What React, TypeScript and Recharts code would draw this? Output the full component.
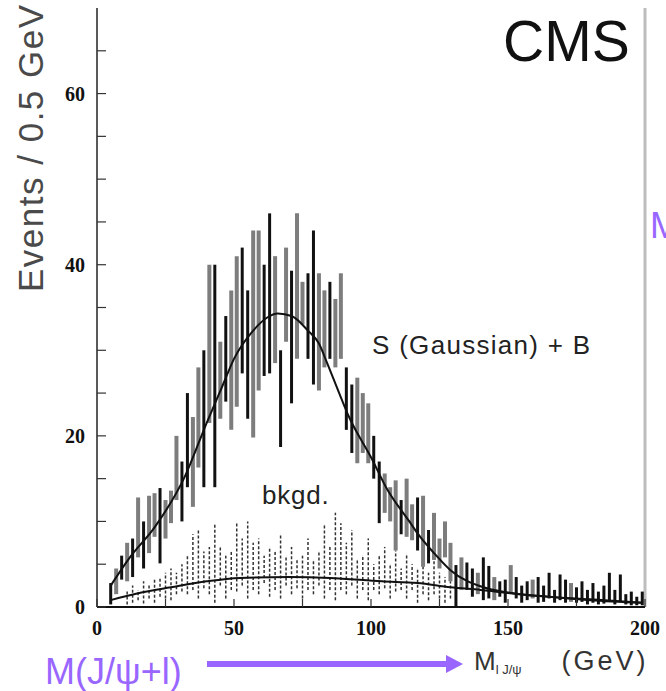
import React from 'react';
import { ComposedChart, XAxis, YAxis, Scatter, ErrorBar, Line, ReferenceLine } from 'recharts';

// observed events per bin (error bar low / high edges), S+B sample
const obsMass = [5, 7, 9, 11, 13, 15, 17, 19, 21, 23, 25, 27, 29, 31, 33, 35, 37, 39, 41, 43, 45, 47, 49, 51, 53, 55, 57, 59, 61, 63, 65, 67, 69, 71, 73, 75, 77, 79, 81, 83, 85, 87, 89, 91, 93, 95, 97, 99, 101, 103, 105, 107, 109, 111, 113, 115, 117, 119, 121, 123, 125, 127, 129, 131, 133, 135, 137, 139, 141, 143, 145, 147, 149, 151, 153, 155, 157, 159, 161, 163, 165, 167, 169, 171, 173, 175, 177, 179, 181, 183, 185, 187, 189, 191, 193, 195, 197, 199];
const obsLow = [0.3, 1.5, 3.2, 3.0, 3.5, 5.8, 4.5, 6.3, 8.2, 5.1, 8.0, 9.8, 12.5, 10.0, 14.0, 11.7, 16.3, 14.0, 21.5, 14.0, 22.0, 24.0, 20.7, 23.4, 27.3, 22.0, 19.8, 25.3, 27.0, 27.3, 28.5, 18.7, 31.0, 23.8, 29.0, 33.0, 29.0, 26.0, 25.3, 28.0, 29.0, 28.0, 29.0, 20.7, 18.0, 16.8, 18.0, 16.8, 15.0, 9.8, 11.0, 10.0, 6.6, 8.5, 8.2, 7.8, 6.6, 4.7, 5.1, 5.5, 4.5, 5.8, 3.0, 0.0, 2.0, 2.0, 1.2, 1.5, 0.8, 1.0, 0.8, 1.2, 0.5, 1.6, 1.0, 0.5, 0.8, 1.0, 0.5, 0.6, 1.0, 0.5, 0.8, 0.5, 0.6, 0.5, 0.6, 0.3, 0.5, 0.3, 0.4, 0.8, 0.3, 0.6, 0.3, 0.2, 0.2, 0.2];
const obsHigh = [2.8, 4.5, 6.0, 7.5, 8.0, 12.8, 10.0, 13.0, 13.3, 13.9, 12.5, 13.6, 20.0, 17.0, 25.0, 22.2, 28.0, 30.0, 40.0, 40.0, 31.0, 34.0, 37.0, 41.0, 42.0, 37.0, 44.0, 44.0, 40.0, 46.0, 41.0, 30.0, 42.0, 39.3, 46.0, 38.0, 39.0, 44.0, 39.0, 37.0, 38.0, 36.0, 39.0, 28.0, 26.0, 26.8, 25.0, 23.8, 20.0, 17.0, 15.6, 14.0, 14.8, 12.5, 15.0, 12.0, 12.8, 13.0, 9.0, 11.0, 8.0, 10.0, 7.5, 4.9, 5.8, 5.2, 4.5, 4.0, 5.8, 4.8, 3.5, 3.0, 3.2, 4.9, 3.5, 2.5, 3.0, 3.2, 3.5, 2.5, 4.0, 2.0, 3.8, 3.2, 2.8, 2.3, 3.0, 2.0, 2.8, 1.8, 2.5, 4.0, 2.0, 3.8, 1.5, 1.8, 1.2, 1.8];
const obsShade = ['k', 'g', 'k', 'g', 'k', 'g', 'k', 'g', 'g', 'k', 'g', 'g', 'g', 'k', 'k', 'g', 'g', 'k', 'g', 'k', 'g', 'k', 'g', 'g', 'k', 'k', 'g', 'g', 'k', 'k', 'g', 'k', 'g', 'k', 'g', 'g', 'k', 'k', 'g', 'g', 'k', 'g', 'g', 'k', 'k', 'g', 'g', 'g', 'k', 'k', 'g', 'g', 'g', 'k', 'g', 'g', 'k', 'g', 'k', 'g', 'g', 'g', 'g', 'k', 'g', 'k', 'k', 'g', 'k', 'k', 'g', 'k', 'k', 'g', 'k', 'k', 'k', 'g', 'k', 'k', 'k', 'k', 'k', 'k', 'g', 'k', 'k', 'k', 'k', 'k', 'k', 'k', 'k', 'k', 'k', 'k', 'k', 'k'];

// background-only sample (dashed error bars)
const bkgMass = [11, 13, 15, 17, 19, 21, 23, 25, 27, 29, 31, 33, 35, 37, 39, 41, 43, 45, 47, 49, 51, 53, 55, 57, 59, 61, 63, 65, 67, 69, 71, 73, 75, 77, 79, 81, 83, 85, 87, 89, 91, 93, 95, 97, 99, 101, 103, 105, 107, 109, 111, 113, 115, 117, 119, 121, 123, 125, 127, 129];
const bkgLow = [0.3, 0.5, 0.8, 0.4, 1.0, 0.5, 1.2, 1.0, 0.8, 1.5, 1.8, 1.5, 2.0, 1.0, 2.2, 1.5, 0.5, 2.5, 1.0, 2.0, 1.8, 2.5, 1.0, 2.0, 1.5, 2.8, 1.2, 2.0, 1.0, 2.5, 1.5, 2.2, 1.0, 2.0, 1.5, 2.5, 1.0, 2.0, 0.8, 2.0, 1.5, 2.5, 1.0, 2.0, 0.8, 2.0, 1.5, 2.2, 1.0, 1.8, 2.0, 1.0, 2.0, 0.5, 1.5, 0.8, 1.5, 1.0, 0.5, 1.0];
const bkgHigh = [2.0, 2.5, 2.0, 3.0, 2.5, 3.2, 3.5, 4.0, 4.5, 4.0, 5.0, 6.0, 8.5, 9.0, 6.5, 7.0, 9.6, 7.0, 6.0, 6.5, 10.0, 8.0, 10.0, 7.5, 8.0, 6.0, 7.0, 6.5, 8.6, 6.0, 7.0, 5.5, 6.0, 8.0, 5.5, 6.5, 9.6, 7.0, 11.0, 9.8, 7.5, 9.0, 5.5, 6.0, 8.0, 5.0, 6.0, 7.0, 5.0, 6.6, 4.5, 6.2, 5.0, 4.5, 5.5, 4.0, 5.8, 4.0, 3.5, 3.0];

// fitted curves
const fitMass = [5, 12, 21, 32, 40, 46, 50, 57, 62, 66, 71, 77, 81, 84, 89, 92, 100, 106, 114, 117, 123, 129, 141, 150, 165, 180, 199];
const fitSB = [2.5, 5.8, 9.3, 15.2, 21.5, 26.0, 29.0, 32.3, 33.8, 34.3, 34.0, 32.3, 30.8, 28.5, 24.5, 22.2, 17.5, 13.7, 10.0, 8.6, 6.3, 4.3, 2.3, 1.7, 1.2, 0.8, 0.5];
const bgMass = [5, 15, 27, 40, 52, 70, 85, 104, 117, 129, 140, 160, 180, 199];
const bgFit = [0.8, 1.6, 2.3, 3.0, 3.4, 3.5, 3.4, 3.0, 2.8, 2.3, 2.0, 1.3, 0.9, 0.5];

const yTicks = [0, 5, 10, 15, 20, 25, 30, 35, 40, 45, 50, 55, 60, 65];
const xTicks = [0, 25, 50, 75, 100, 125, 150, 175, 200];

const obsRows = obsMass.map((m, i) => ({ m, y: obsLow[i], err: [0, obsHigh[i] - obsLow[i]], shade: obsShade[i] }));
const blackRows = obsRows.filter((r) => r.shade === 'k');
const grayRows = obsRows.filter((r) => r.shade === 'g');
const bkgRows = bkgMass.map((m, i) => ({ m, y: bkgLow[i], err: [0, bkgHigh[i] - bkgLow[i]] }));
const sbRows = fitMass.map((m, i) => ({ m, sb: fitSB[i] }));
const bgRows = bgMass.map((m, i) => ({ m, bg: bgFit[i] }));

const sans = '"Liberation Sans", Arial, sans-serif';
const tickFont = { fontFamily: '"Liberation Serif", serif', fontWeight: 700, fontSize: 20, fill: '#111' };
const purple = '#9966ff';

const noDot = () => <g />;

const YTick = (props: any) => {
  const { x, y, payload } = props;
  const v = payload.value;
  return (
    <g>
      <line x1={x + 12} x2={x + 21} y1={y} y2={y} stroke="#333" strokeWidth={1.2} />
      {v % 20 === 0 && (
        <text x={x} y={y} textAnchor="end" dominantBaseline="central" {...tickFont}>
          {v}
        </text>
      )}
    </g>
  );
};

const XTick = (props: any) => {
  const { x, y, payload } = props;
  const v = payload.value;
  return (
    <g>
      <line x1={x} x2={x} y1={y} y2={y - 8} stroke="#333" strokeWidth={1.2} />
      {v % 50 === 0 && (
        <text x={x} y={y + 21} textAnchor="middle" dominantBaseline="central" {...tickFont}>
          {v}
        </text>
      )}
    </g>
  );
};

export default function App() {
  return (
    <div style={{ position: 'absolute', left: 0, top: 0, width: 666, height: 691, background: '#fff', overflow: 'hidden' }}>
      <ComposedChart width={666} height={691} margin={{ top: 8, right: 21, bottom: 54, left: 37 }}>
        <XAxis
          type="number"
          dataKey="m"
          domain={[0, 200]}
          ticks={xTicks}
          allowDataOverflow
          height={30}
          tickSize={0}
          tickMargin={0}
          tickLine={false}
          tick={<XTick />}
          axisLine={{ stroke: '#111', strokeWidth: 2 }}
        />
        <YAxis
          type="number"
          dataKey="y"
          domain={[0, 70]}
          ticks={yTicks}
          allowDataOverflow
          width={60}
          tickSize={0}
          tickMargin={12}
          tickLine={false}
          tick={<YTick />}
          axisLine={{ stroke: '#222', strokeWidth: 1.5 }}
        />
        <ReferenceLine x={200} stroke="#bdbdbd" strokeWidth={3} />
        <Scatter data={bkgRows} dataKey="y" shape={noDot} isAnimationActive={false}>
          <ErrorBar dataKey="err" direction="y" width={0} stroke="#333" strokeWidth={1.5} strokeDasharray="3 2" isAnimationActive={false} />
        </Scatter>
        <Scatter data={grayRows} dataKey="y" shape={noDot} isAnimationActive={false}>
          <ErrorBar dataKey="err" direction="y" width={0} stroke="#7d7d7d" strokeWidth={4} isAnimationActive={false} />
        </Scatter>
        <Scatter data={blackRows} dataKey="y" shape={noDot} isAnimationActive={false}>
          <ErrorBar dataKey="err" direction="y" width={0} stroke="#111" strokeWidth={3} isAnimationActive={false} />
        </Scatter>
        <Line data={bgRows} dataKey="bg" type="monotone" stroke="#111" strokeWidth={2} dot={false} isAnimationActive={false} />
        <Line data={sbRows} dataKey="sb" type="monotone" stroke="#111" strokeWidth={2} dot={false} isAnimationActive={false} />
      </ComposedChart>
      <svg width={666} height={691} style={{ position: 'absolute', left: 0, top: 0, pointerEvents: 'none' }}>
        <text transform="rotate(-90)" x={-292} y={43} fontFamily={sans} fontSize={35} fill="#4a4a4a" letterSpacing={1.5}>
          Events / 0.5 GeV
        </text>
        <text x={503} y={61} fontFamily={sans} fontSize={57} fill="#111">
          CMS
        </text>
        <text x={372} y={354} fontFamily={sans} fontSize={26} fill="#222" letterSpacing={1.3}>
          S (Gaussian) + B
        </text>
        <text x={262} y={504} fontFamily={sans} fontSize={26} fill="#222" letterSpacing={0.8}>
          bkgd.
        </text>
        <text x={650} y={238} fontFamily={sans} fontSize={36} fill={purple}>
          M(J/ψ+l)
        </text>
        <text x={45} y={684} fontFamily={sans} fontSize={36} fill={purple}>
          M(J/ψ+l)
        </text>
        <line x1={207} x2={449} y1={664} y2={664} stroke={purple} strokeWidth={6} />
        <polygon points="446,655 463,664 446,673" fill={purple} />
        <text x={474} y={670} fontFamily={sans} fontSize={26} fill="#333">
          M
          <tspan fontSize={13} dy={4}>l J/ψ</tspan>
          <tspan fontSize={27} dy={-4} dx={40} letterSpacing={3}>(GeV)</tspan>
        </text>
      </svg>
    </div>
  );
}
